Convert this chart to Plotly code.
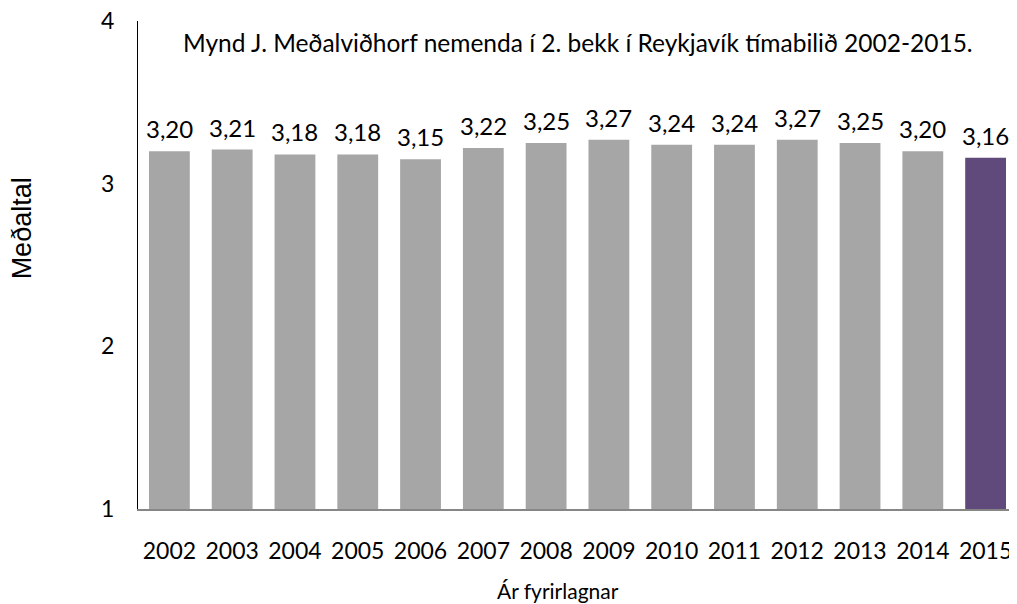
import plotly.graph_objects as go

years = ["2002", "2003", "2004", "2005", "2006", "2007", "2008", "2009",
         "2010", "2011", "2012", "2013", "2014", "2015"]
values = [3.20, 3.21, 3.18, 3.18, 3.15, 3.22, 3.25, 3.27, 3.24, 3.24, 3.27, 3.25, 3.20, 3.16]
y_ticks = [1, 2, 3, 4]
title_text = "Mynd J. Meðalviðhorf nemenda í 2. bekk í Reykjavík tímabilið 2002-2015."
x_title = "Ár fyrirlagnar"
y_title = "Meðaltal"

colors = ["#a6a6a6"] * (len(years) - 1) + ["#604a7b"]
labels = [f"{v:.2f}".replace(".", ",") for v in values]

FONT = "Lato, Calibri, sans-serif"

fig = go.Figure(go.Bar(
    x=years, y=values,
    marker=dict(color=colors, line=dict(width=0)),
    hoverinfo="x+y",
))

annotations = [
    dict(text=title_text, xref="paper", yref="paper", x=0.5, y=0.955,
         xanchor="center", yanchor="middle", showarrow=False,
         font=dict(family=FONT, size=24.5, color="#000000")),
    dict(text=x_title, xref="paper", yref="paper", x=0.478, y=-0.166,
         xanchor="center", yanchor="middle", showarrow=False,
         font=dict(family=FONT, size=21, color="#000000")),
    dict(text=y_title, xref="paper", yref="paper", x=-0.132, y=0.575,
         xanchor="center", yanchor="middle", showarrow=False, textangle=-90,
         font=dict(family="Liberation Sans, Arial, sans-serif", size=27, color="#000000")),
]
# value labels: x given as the category index on the category axis
for i, (v, lab) in enumerate(zip(values, labels)):
    annotations.append(dict(
        text=lab, x=i, y=v, xref="x", yref="y",
        xanchor="center", yanchor="bottom", showarrow=False, yshift=6,
        font=dict(family=FONT, size=24, color="#000000"),
    ))

# page body has an 8px default margin, so the figure is drawn 8px smaller
fig.update_layout(
    width=1009, height=596,
    margin=dict(l=130, r=0, t=13, b=95, autoexpand=False),
    paper_bgcolor="white", plot_bgcolor="white",
    bargap=0.35,
    showlegend=False,
    font=dict(family=FONT, size=23, color="#000000"),
    annotations=annotations,
)
fig.update_xaxes(
    type="category",
    showline=True, linecolor="#868686", linewidth=1.5,
    ticks="", showgrid=False, ticklabelstandoff=21, automargin=False,
    ticklabeloverflow="allow",
)
fig.update_yaxes(
    range=[1, 4], tickvals=y_ticks, showline=True, linecolor="#000000", linewidth=1,
    ticks="", showgrid=False, zeroline=False, ticklabelstandoff=18, automargin=False,
    ticklabeloverflow="allow",
)

fig.write_html("out.html")
